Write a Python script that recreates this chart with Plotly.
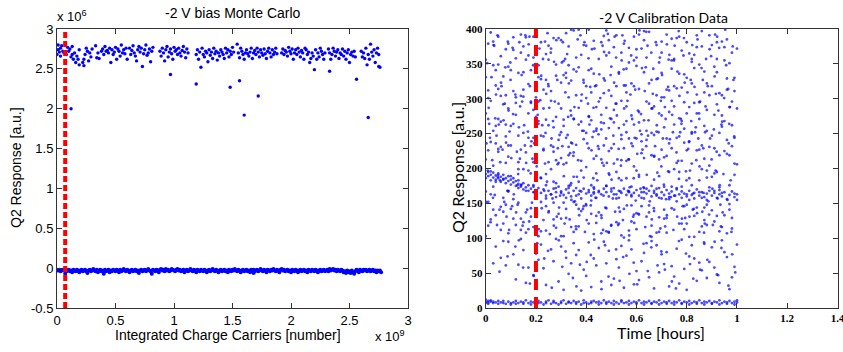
import plotly.graph_objects as go

# ---------------- Left panel: -2 V bias Monte Carlo ----------------
# x in units of 1e7 charge carriers, y in units of 1e4 a.u. (axes shown as x1e9 / x1e6)
MC_TOP_X = [0,1,1,2,3,3,4,5,6,7,8,9,10,11,12,13,13,14,15,16,17,18,19,19,
            22,23,23,24,25,26,27,28,29,30,
            33,34,35,36,
            38,39,40,41,42,43,44,45,46,47,48,49,50,51,52,53,54,55,56,57,58,59,60,
            62,63,64,65,66,67,68,69,70,71,72,73,74,75,76,77,78,79,80,81,82,
            88,89,90,91,92,93,94,95,96,97,98,99,100,101,102,103,104,105,106,107,108,109,110,111,112,
            119,120,121,122,123,124,125,126,127,128,129,130,131,132,133,134,135,136,137,138,139,140,141,142,143,144,145,146,147,148,149,150,151,
            154,155,156,157,158,159,160,161,162,163,164,165,166,167,168,169,170,171,172,173,174,175,176,177,178,179,180,181,182,183,184,185,186,187,188,
            192,193,194,195,196,197,198,199,200,201,202,203,204,205,206,207,208,209,210,211,212,213,214,215,216,217,218,219,220,221,222,223,224,225,226,227,228,229,
            232,233,234,235,236,237,238,239,240,241,242,243,244,245,246,247,248,249,250,251,252,253,254,255,
            260,261,262,263,264,265,266,267,268,269,270,271,272,273,274,275,276]
MC_TOP_Y = [268,274,280,271,276,266,279,272,270,281,268,277,272,275,265,278,268,262,270,258,266,262,274,255,
            258,254,262,268,276,272,260,270,265,275,
            279,264,270,263,
            272,275,268,278,272,273,270,276,258,274,268,271,277,262,275,272,266,280,270,274,269,276,262,
            276,268,273,279,270,266,260,274,278,271,276,253,269,274,280,267,270,275,259,272,277,
            272,266,276,270,260,274,278,265,271,275,269,262,277,272,274,268,276,270,266,273,278,271,264,275,270,
            268,274,262,271,252,276,268,265,272,270,259,274,267,271,263,276,269,272,261,270,266,274,271,268,263,276,270,274,265,272,268,277,271,
            281,270,264,276,272,268,262,270,274,269,266,271,276,263,270,273,268,276,271,265,274,270,267,275,269,263,272,276,270,265,274,268,271,276,269,
            270,275,268,273,271,266,277,272,269,275,262,270,274,268,276,271,265,273,270,262,276,274,268,271,258,263,270,266,249,274,262,270,265,276,272,268,262,270,
            275,270,262,268,276,272,266,271,274,263,270,268,275,266,272,262,270,274,258,268,271,266,272,265,
            272,265,270,263,276,255,268,262,281,271,266,274,258,270,276,268,252]
MC_OUT_X = [12, 97, 119, 148, 156, 160, 172, 233, 256, 266, 275]
MC_OUT_Y = [200, 243, 231, 227, 235, 192, 216, 247, 237, 189, 253]
MC_BASE = [(0,-2),(1,-3),(2,-2),(3,-4),(4,-3),(5,-2),(6,-3),(7,-7),(7,-2),(8,-4),(9,-3),(10,-2),(11,-4),(12,-3),(13,-5),(14,-2),
           (15,-3),(16,-4),(17,-2),(18,-3),(19,-5),(20,-3),(21,-2),(22,-4),(23,-3),(24,-2),(25,-4),(26,-6),(27,-3),(28,-2),(29,-4),
           (30,-3),(31,-1),(32,-3),(33,-4),(34,-2),(35,-5),(36,-3),(37,-2),(38,-4),(39,-3),(40,-7),(41,-2),(42,-4),(43,-3),(44,-2),
           (45,-5),(46,-3),(47,-4),(48,-2),(49,-3),(50,-4),(51,-2),(52,-3),(53,-5),(54,-2),(55,-4),(56,-3),(57,-1),(58,-3),(59,-4),
           (60,-2),(61,-3),(62,-5),(63,-3),(64,-2),(65,-4),(66,-3),(67,-2),(68,-4),(69,-3),(70,-6),(71,-3),(72,-2),(73,-4),(74,-3),
           (75,-2),(76,-4),(77,-3),(78,-1),(79,-3),(80,-4),(81,-7),(82,-2),(83,-3),(84,-4),(85,-2),(86,-3),(87,-5),(88,-2),(89,-1),
           (90,-3),(91,-2),(92,-4),(93,-1),(94,-3),(95,-2),(96,-4),(97,-3),(98,-1),(99,-2),(100,-3),(101,-4),(102,-2),(103,-1),
           (104,-3),(105,-2),(106,-4),(107,-3),(108,-2),(109,-5),(110,-3),(111,-2),(112,-4),(113,-3),(114,-1),(115,-3),(116,-4),
           (117,-2),(118,-3),(119,-5),(120,-2),(121,-3),(122,-4),(123,-2),(124,-3),(125,-4),(126,-2),(127,-3),(128,-5),(129,-3),
           (130,-2),(131,-4),(132,-3),(133,-1),(134,-3),(135,-4),(136,-2),(137,-3),(138,-5),(139,-3),(140,-2),(141,-4),(142,-3),
           (143,-2),(144,-4),(145,-3),(146,-5),(147,-2),(148,-3),(149,-4),(150,-2),(151,-3),(152,-1),(153,-3),(154,-4),(155,-2),
           (156,-3),(157,-5),(158,-3),(159,-2),(160,-4),(161,-3),(162,-2),(163,-4),(164,-3),(165,-5),(166,-2),(167,-3),(168,-6),
           (168,-2),(169,-4),(170,-3),(171,-2),(172,-4),(173,-3),(174,-1),(175,-3),(176,-4),(177,-2),(178,-3),(179,-5),(180,-2),
           (181,-3),(182,-4),(183,-2),(184,-3),(185,-1),(186,-3),(187,-4),(188,-2),(189,-3),(190,-5),(191,-2),(192,-1),(193,-3),
           (194,-2),(195,-4),(196,-3),(197,-2),(198,-4),(199,-3),(200,-5),(201,-2),(202,-3),(203,-4),(204,-2),(205,-3),(206,-5),
           (207,-3),(208,-2),(209,-4),(210,-3),(211,-2),(212,-4),(213,-3),(214,-5),(215,-2),(216,-3),(217,-4),(218,-2),(219,-3),
           (220,-4),(221,-2),(222,-3),(223,-5),(224,-3),(225,-2),(226,-4),(227,-3),(228,-2),(229,-4),(230,-3),(231,-2),(232,-4),
           (233,-1),(234,-3),(235,-2),(236,-1),(237,-3),(238,-2),(239,-4),(240,-2),(241,-3),(242,-4),(243,-2),(244,-3),(245,-5),
           (246,-4),(247,-6),(248,-3),(249,-5),(250,-4),(251,-6),(252,-3),(253,-5),(254,-7),(255,-4),(256,-2),(257,-3),(258,-5),
           (259,-2),(260,-3),(261,-4),(262,-2),(263,-3),(264,-2),(265,-4),(266,-3),(267,-2),(268,-4),(269,-3),(270,-2),(271,-4),
           (272,-3),(273,-5),(274,-3),(275,-4),(276,-3),(277,-5)]
MC_CUT_X = 0.07  # x1e9, red dashed marker
MC_XTICKS = [0, 0.5, 1, 1.5, 2, 2.5, 3]
MC_XTEXT = ["0", "0.5", "1", "1.5", "2", "2.5", "3"]
MC_YTICKS = [-0.5, 0, 0.5, 1, 1.5, 2, 2.5, 3]
MC_YTEXT = ["-0.5", "0", "0.5", "1", "1.5", "2", "2.5", "3"]

# ---------------- Right panel: -2 V Calibration Data ----------------
# CAL_CLOUD: x in hundredths of an hour, y in a.u.
CAL_CLOUD = [
 (1,312),(6,145),(11,388),(14,227),(21,103),(25,356),(31,261),(34,179),(41,399),(44,132),(51,284),(56,211),(60,347),(66,118),(70,302),(76,244),(80,163),(86,375),(91,229),(97,141),
 (3,254),(8,371),(12,119),(18,296),(22,186),(28,333),(32,142),(38,267),(43,214),(47,390),(52,157),(58,322),(62,239),(68,108),(73,281),(77,195),(83,344),(87,126),(93,308),(98,262),
 (0,167),(5,228),(10,341),(16,137),(20,274),(26,199),(30,384),(36,113),(40,318),(46,256),(50,171),(55,379),(61,134),(65,293),(71,216),(75,357),(81,102),(85,271),(90,188),(96,329),
 (2,395),(7,121),(13,209),(17,362),(23,286),(27,151),(33,231),(37,345),(42,176),(48,110),(53,336),(57,243),(63,397),(67,184),(72,129),(78,316),(82,252),(88,148),(92,381),(99,207),
 (4,133),(9,286),(15,251),(19,176),(24,327),(29,241),(35,152),(39,377),(45,296),(49,225),(54,104),(59,263),(64,171),(69,352),(74,143),(79,237),(84,391),(89,305),(94,116),(100,286),
 (1,226),(5,349),(12,294),(16,108),(22,247),(26,372),(30,128),(36,305),(40,202),(45,166),(51,235),(55,142),(61,281),(65,396),(71,174),(75,263),(80,330),(86,199),(90,247),(95,374),
 (3,382),(7,185),(11,156),(17,321),(20,139),(27,259),(32,394),(35,223),(42,343),(47,308),(50,119),(57,373),(60,197),(67,248),(70,366),(77,121),(81,288),(85,166),(92,132),(97,351),
 (0,279),(6,112),(13,337),(18,232),(24,364),(28,115),(31,206),(37,181),(41,275),(46,133),(52,391),(56,268),(62,146),(66,219),(72,313),(76,387),(82,207),(87,261),(93,173),(98,114),
 (2,163),(8,305),(14,174),(19,389),(23,126),(29,293),(33,348),(38,139),(44,254),(48,362),(53,186),(58,124),(63,338),(68,161),(73,236),(78,174),(83,363),(88,322),(94,276),(99,191),
 (4,341),(9,217),(15,375),(21,264),(25,209),(30,165),(34,276),(39,323),(43,106),(49,193),(54,297),(59,389),(64,254),(69,130),(74,386),(79,295),(84,144),(89,231),(95,355),(100,155),
 (1,118),(6,267),(10,233),(16,168),(21,331),(26,297),(31,103),(36,359),(41,166),(45,228),(50,346),(56,186),(60,113),(66,327),(71,259),(76,153),(81,239),(86,397),(91,124),(96,241),
 (3,204),(8,148),(12,358),(17,279),(22,152),(27,387),(32,244),(37,117),(42,309),(47,265),(52,123),(57,213),(62,372),(67,289),(72,108),(77,336),(82,176),(87,214),(92,292),(97,176),
 (0,356),(5,191),(11,128),(15,313),(20,372),(25,137),(30,323),(35,271),(40,147),(46,381),(51,207),(55,319),(61,266),(65,137),(70,227),(75,199),(80,381),(85,109),(91,346),(96,107),
 (2,297),(7,332),(13,247),(18,131),(23,226),(28,349),(33,172),(38,211),(43,383),(48,143),(53,258),(58,162),(63,215),(68,377),(73,195),(78,268),(83,132),(88,284),(93,219),(99,330),
 (4,181),(9,107),(14,392),(19,244),(24,111),(29,208),(34,399),(39,254),(44,193),(49,312),(54,366),(59,134),(64,296),(69,213),(74,355),(79,146),(84,306),(89,173),(94,382),(98,296),
 (1,379),(6,231),(10,189),(16,356),(21,296),(26,163),(31,334),(36,148),(41,229),(46,277),(51,163),(56,343),(61,188),(66,251),(71,141),(76,315),(81,155),(86,233),(91,277),(97,219),
 (3,141),(8,263),(12,302),(17,197),(22,381),(27,224),(32,129),(37,287),(42,135),(47,204),(52,318),(57,111),(62,249),(67,168),(72,392),(77,246),(82,357),(87,144),(92,195),(98,366),
 (0,213),(5,389),(11,264),(15,123),(20,243),(25,318),(31,270),(35,398),(40,251),(45,357),(50,229),(56,289),(60,371),(66,102),(70,276),(76,208),(80,121),(85,349),(90,318),(95,133),
 (2,238),(7,158),(13,183),(18,341),(23,313),(28,179),(33,302),(38,363),(44,122),(48,287),(53,144),(58,236),(64,131),(68,305),(74,174),(78,369),(84,226),(88,119),(94,165),(99,244),
 (4,319),(9,346),(14,128),(19,209),(24,270),(30,252),(34,116),(39,187),(43,336),(49,108),(54,248),(59,318),(63,166),(69,279),(73,312),(79,113),(83,294),(89,391),(93,251),(100,372),
 (2,127),(6,304),(10,261),(15,199),(21,348),(24,157),(29,387),(35,188),(39,146),(44,319),(50,271),(54,183),(60,136),(64,359),(69,189),(75,289),(79,257),(85,183),(90,140),(96,313),
 (0,103),(5,271),(9,379),(14,304),(19,116),(25,262),(28,212),(34,326),(40,376),(43,253),(48,175),(55,229),(59,203),(65,147),(70,337),(74,229),(80,279),(84,374),(89,204),(95,268),
 (3,348),(8,208),(13,151),(17,244),(22,110),(26,311),(32,158),(36,234),(41,341),(46,107),(51,266),(57,352),(61,314),(67,217),(71,128),(77,389),(81,186),(87,339),(92,357),(98,129),
 (1,271),(7,138),(11,311),(16,388),(20,302),(27,127),(30,286),(37,399),(42,154),(47,329),(52,195),(55,101),(62,222),(66,175),(72,243),(75,141),(82,322),(86,117),(91,168),(97,288),
 (4,236),(9,168),(13,199),(18,294),(24,192),(28,274),(33,219),(38,297),(44,218),(49,384),(53,338),(58,276),(63,384),(68,253),(73,159),(78,211),(83,102),(88,254),(94,305),(99,164),
 (1,152),(5,314),(12,277),(17,113),(21,268),(26,233),(31,151),(35,342),(42,269),(45,137),(50,304),(57,166),(60,243),(65,322),(71,302),(74,343),(81,365),(85,227),(91,193),(96,385),
 (3,174),(6,361),(10,142),(16,223),(22,328),(27,181),(33,375),(36,161),(41,121),(47,233),(53,121),(56,309),(63,269),(67,139),(70,157),(77,272),(80,148),(87,309),(93,110),(98,232),
 (0,331),(8,246),(14,112),(19,359),(23,246),(29,135),(32,330),(39,242),(43,164),(48,398),(52,293),(58,147),(61,392),(68,328),(72,218),(78,121),(84,279),(88,197),(92,338),(99,311),
 (2,196),(7,292),(11,370),(18,143),(25,376),(30,215),(34,237),(37,142),(44,288),(49,258),(54,212),(59,355),(64,241),(69,109),(75,318),(79,335),(82,250),(86,158),(94,260),(97,149),
 (4,261),(9,233),(15,338),(20,190),(24,146),(31,354),(35,109),(40,301),(46,213),(51,374),(55,263),(62,158),(66,286),(70,382),(76,172),(80,226),(85,295),(90,377),(95,225),(100,206)]
# CAL_CLOUD_FINE: x in thousandths of an hour, y in a.u.
CAL_CLOUD_FINE = [
 (17,244),(63,318),(112,163),(158,391),(207,277),(251,139),(303,352),(349,218),(402,126),(456,301),(508,247),(553,383),(597,154),(648,269),(702,334),(747,112),(806,228),(853,296),(902,171),(957,348),
 (34,376),(83,131),(137,289),(186,214),(228,357),(279,172),(326,248),(377,391),(428,186),(479,243),(527,119),(576,306),(624,227),(677,381),(726,196),(779,264),(828,142),(877,357),(926,283),(978,109),
 (8,197),(52,263),(98,352),(147,118),(193,236),(241,307),(292,144),(338,283),(389,327),(437,158),(491,366),(538,204),(587,131),(637,345),(688,252),(737,159),(789,387),(838,212),(889,134),(938,263),
 (23,331),(74,152),(124,224),(171,378),(219,187),(268,268),(314,121),(361,339),(413,263),(467,112),(517,293),(566,168),(612,398),(661,127),(713,288),(766,211),(816,327),(867,165),(913,392),(967,236),
 (45,119),(91,283),(143,334),(194,166),(246,394),(287,229),(337,176),(384,254),(433,372),(482,208),(534,138),(583,271),(633,311),(683,194),(731,363),(784,146),(833,252),(884,318),(934,148),(986,327),
 (12,287),(58,209),(105,146),(153,262),(201,319),(255,106),(307,381),(355,153),(407,293),(452,335),(501,184),(549,342),(603,221),(653,153),(697,297),(752,376),(799,183),(846,243),(897,361),(946,192),
 (29,158),(78,345),(129,192),(176,318),(223,143),(272,353),(321,208),(372,133),(421,226),(471,367),(522,276),(571,104),(618,278),(667,343),(721,133),(771,304),(822,377),(872,121),(919,224),(972,288),
 (3,236),(47,391),(95,253),(142,177),(190,284),(236,207),(283,131),(331,322),(380,197),(429,287),(476,144),(529,228),(579,362),(628,173),(674,232),(726,317),(774,252),(825,164),(875,289),(929,373),
 (38,272),(86,168),(134,381),(182,239),(233,168),(275,296),(324,364),(370,263),(418,147),(464,208),(513,389),(560,252),(608,135),(659,366),(709,177),(759,223),(811,131),(859,344),(908,256),(962,155),
 (19,123),(67,227),(118,306),(165,141),(214,372),(262,243),(311,189),(359,117),(409,358),(459,266),(506,157),(557,319),(606,283),(654,103),(705,243),(754,161),(803,309),(851,203),(904,119),(953,399),
 (41,306),(88,382),(132,259),(179,193),(230,228),(281,384),(328,274),(374,168),(425,245),(474,326),(524,213),(573,173),(622,344),(671,218),(718,156),(768,397),(818,268),(866,229),(916,307),(969,264),
 (6,351),(55,141),(102,215),(150,303),(198,134),(249,321),(296,161),(344,236),(395,109),(444,183),(495,272),(544,391),(593,244),(641,191),(693,359),(742,277),(794,129),(843,385),(893,243),(943,137),
 (26,212),(71,269),(121,137),(168,253),(217,298),(266,157),(317,309),(366,385),(416,317),(461,129),(511,323),(562,147),(610,191),(663,286),(714,117),(763,339),(809,238),(862,138),(911,332),(960,221),
 (48,188),(93,112),(140,366),(189,348),(238,251),(286,206),(334,127),(382,306),(431,171),(486,393),(536,167),(585,232),(635,116),(685,329),(733,242),(781,128),(831,317),(880,187),(931,176),(983,375),
 (14,264),(61,323),(109,278),(161,208),(211,113),(259,366),(305,232),(353,288),(404,236),(449,249),(499,118),(551,286),(600,359),(646,247),(699,203),(749,355),(797,196),(849,279),(899,213),(949,301),
 (36,162),(81,237),(127,148),(174,389),(225,262),(271,118),(319,337),(368,212),(423,371),(469,161),(519,359),(568,213),(616,171),(669,143),(721,378),(769,185),(820,353),(869,108),(923,157),(975,183),
 (10,301),(57,183),(107,373),(156,233),(203,203),(253,287),(300,103),(351,271),(399,149),(447,232),(497,334),(546,126),(595,313),(644,376),(695,114),(745,252),(792,323),(841,136),(891,371),(941,267),
 (31,377),(76,293),(126,176),(173,124),(221,333),(269,231),(316,357),(363,188),(411,274),(465,376),(515,138),(564,297),(614,254),(665,307),(716,271),(762,131),(813,197),(864,327),(915,197),(965,314),
 (1,152),(50,224),(99,327),(145,296),(196,158),(244,181),(294,248),(341,155),(393,381),(441,257),(492,191),(541,355),(591,122),(639,232),(690,172),(740,297),(787,362),(836,259),(886,153),(936,117),
 (43,247),(90,167),(136,214),(184,151),(236,382),(285,327),(336,222),(387,142),(435,318),(489,109),(540,242),(589,186),(639,396),(681,262),(728,356),(777,271),(824,141),(873,252),(921,389),(989,246),
 (55,52),(118,88),(176,35),(233,71),(291,97),(347,43),(402,66),(461,27),(519,84),(572,49),(628,92),(684,61),(741,38),(797,78),(853,55),(911,95),(966,32),
 (87,74),(149,58),(205,93),(263,29),(318,81),(375,62),(432,98),(489,45),(547,73),(603,34),(659,87),(713,55),(769,96),(826,42),(882,69),(938,86),(993,51),
 (132,97),(191,46),(248,82),(305,59),(361,31),(418,76),(475,90),(533,39),(589,65),(645,53),(699,81),(757,28),(813,63),(869,94),(925,47),(981,77)]
CAL_LOW = [
 (6,72),(9,95),(12,41),(15,83),(17,58),(22,91),(24,33),(27,67),(30,88),(33,49),(36,76),(38,25),(41,94),(44,61),(46,38),(49,82),(52,70),(55,29),
 (57,97),(60,53),(63,79),(65,44),(68,90),(71,63),(73,31),(76,85),(79,56),(81,74),(84,39),(87,92),(89,66),(92,48),(95,80),(97,27),(99,59),
 (4,88),(8,61),(11,77),(14,99),(19,47),(21,69),(26,84),(29,38),(32,72),(35,93),(39,55),(42,30),(45,86),(48,64),(51,42),(54,89),
 (56,75),(59,34),(62,67),(66,96),(69,51),(72,80),(75,45),(78,98),(80,26),(83,71),(86,54),(90,87),(93,36),(96,73),(100,91),
 (3,64),(7,96),(13,62),(16,36),(20,78),(23,57),(28,99),(31,26),(34,64),(37,83),(40,46),(43,71),(47,95),(50,33),
 (53,58),(58,84),(61,40),(64,93),(67,28),(70,77),(74,60),(77,35),(82,90),(85,65),(88,43),(91,58),(94,97),(98,44)]
CAL_BAND = [
 (0,192),(0,186),(1,195),(1,189),(2,183),(2,191),(3,194),(3,187),(4,190),(4,184),(5,193),(5,186),(6,188),(6,181),(7,191),(7,184),
 (8,186),(8,179),(9,189),(9,182),(10,184),(10,177),(11,186),(11,180),(12,175),(12,182),(13,178),(13,172),(14,176),(15,170),(15,179),
 (16,173),(17,168),(17,176),(18,171),(19,166),(19,174),(20,169),(20,163),
 (21,172),(22,165),(23,170),(24,161),(24,176),(25,168),(26,163),(27,171),(28,166),(28,159),(29,174),(30,167),(31,162),(32,170),
 (33,165),(33,175),(34,160),(35,168),(36,172),(37,163),(38,167),(38,157),(39,171),(40,164),(41,169),(42,161),(43,173),(43,166),
 (44,158),(45,168),(46,163),(47,171),(48,166),(48,175),(49,160),(50,167),(51,172),(52,163),(53,168),(53,158),(54,165),(55,171),
 (56,162),(57,167),(58,174),(58,160),(59,165),(60,169),(61,161),(62,166),(63,172),(63,157),(64,164),(65,168),(66,160),(67,165),
 (68,171),(68,163),(69,158),(70,166),(71,162),(72,169),(73,164),(73,156),(74,167),(75,161),(76,170),(77,163),(78,158),(78,167),
 (79,164),(80,160),(81,168),(82,162),(83,157),(83,165),(84,170),(85,161),(86,166),(87,159),(88,164),(88,155),(89,168),(90,161),
 (91,165),(92,158),(93,163),(93,169),(94,160),(95,166),(96,156),(97,162),(98,167),(99,159),(100,163)]
CAL_BASE = [
 (0,9),(0,12),(0,7),(1,10),(1,6),(1,8),(2,9),(2,11),(3,7),(3,9),(4,8),(5,6),(5,10),(6,8),(7,7),(7,10),(8,6),(9,9),(10,7),(10,5),
 (11,8),(12,10),(12,6),(13,7),(14,9),(15,6),(15,8),(16,11),(17,7),(18,5),(18,9),(19,8),(20,6),(21,10),(21,7),(22,8),(23,5),(24,9),
 (24,7),(25,11),(26,6),(27,8),(27,10),(28,7),(29,5),(30,9),(30,7),(31,11),(32,6),(33,8),(33,9),(34,7),(35,10),(36,6),(36,8),(37,9),
 (38,5),(39,7),(39,11),(40,8),(41,6),(42,9),(42,7),(43,10),(44,8),(45,5),(45,9),(46,7),(47,11),(48,6),(48,8),(49,9),(50,7),(51,10),
 (51,5),(52,8),(53,6),(54,9),(54,11),(55,7),(56,8),(57,5),(57,10),(58,7),(59,9),(60,6),(60,8),(61,11),(62,7),(63,9),(63,5),(64,8),
 (65,10),(66,6),(66,7),(67,9),(68,8),(69,5),(69,11),(70,7),(71,9),(72,6),(72,8),(73,10),(74,7),(75,5),(75,9),(76,8),(77,11),(78,6),
 (78,7),(79,9),(80,8),(81,10),(81,5),(82,7),(83,9),(84,6),(84,8),(85,11),(86,7),(87,9),(87,5),(88,8),(89,10),(90,6),(90,7),(91,9),
 (92,8),(93,11),(93,5),(94,7),(95,9),(96,6),(96,8),(97,10),(98,7),(99,9),(99,5),(100,8),(100,11)]
CAL_CUT_X = 0.2  # hours, red dashed marker
CAL_XTICKS = [0, 0.2, 0.4, 0.6, 0.8, 1, 1.2, 1.4]
CAL_XTEXT = ["0", "0.2", "0.4", "0.6", "0.8", "1", "1.2", "1.4"]
CAL_YTICKS = [0, 50, 100, 150, 200, 250, 300, 350, 400]
CAL_YTEXT = ["0", "50", "100", "150", "200", "250", "300", "350", "400"]

# ---------------- layout geometry (pixels of the 843x352 window) ----------------
W, H = 843, 352
def px_x(p):
    return p / W
def px_y(p):
    return 1 - p / H

L_X0, L_X1 = 57, 408
R_X0, R_X1 = 485.7, 837.5
P_TOP, P_BOT = 29, 308

BLUE = "#0000ff"
CAL_BLUE = "rgba(0,0,255,0.7)"
SANS = "Liberation Sans, Arial, sans-serif"
HUM = "Lato, Open Sans, sans-serif"
SERIF = "Liberation Serif, Times New Roman, serif"

fig = go.Figure()

# left panel traces
fig.add_trace(go.Scatter(x=[v / 100 for v in MC_TOP_X], y=[v / 100 for v in MC_TOP_Y], mode="markers",
                         marker=dict(color=BLUE, size=3.4), xaxis="x", yaxis="y", showlegend=False))
fig.add_trace(go.Scatter(x=[v / 100 for v in MC_OUT_X], y=[v / 100 for v in MC_OUT_Y], mode="markers",
                         marker=dict(color=BLUE, size=3.4), xaxis="x", yaxis="y", showlegend=False))
fig.add_trace(go.Scatter(x=[p[0] / 100 for p in MC_BASE], y=[p[1] / 100 for p in MC_BASE], mode="markers",
                         marker=dict(color=BLUE, size=4), xaxis="x", yaxis="y", showlegend=False))

# right panel traces
for pts, scale in ((CAL_CLOUD, 100), (CAL_CLOUD_FINE, 1000), (CAL_LOW, 100), (CAL_BAND, 100), (CAL_BASE, 100)):
    fig.add_trace(go.Scatter(x=[p[0] / scale for p in pts], y=[p[1] for p in pts], mode="markers",
                             marker=dict(color=CAL_BLUE, size=2.8, line=dict(width=0)),
                             xaxis="x2", yaxis="y2", showlegend=False))

axis_common = dict(showgrid=False, zeroline=False, showline=True, linecolor="#333", linewidth=1,
                   mirror="allticks", ticks="inside", ticklen=5, tickcolor="#333", tickwidth=1,
                   automargin=False, ticklabeloverflow="allow")

fig.update_layout(
    width=W, height=H,
    margin=dict(l=0, r=0, t=0, b=0, pad=0, autoexpand=False),
    paper_bgcolor="white", plot_bgcolor="white",
    font=dict(family=SANS, color="black"),
    xaxis=dict(domain=[px_x(L_X0), px_x(L_X1)], range=[0, 3], tickvals=MC_XTICKS, ticktext=MC_XTEXT,
               tickfont=dict(family=SANS, size=13, color="black"), anchor="y", **axis_common),
    yaxis=dict(domain=[px_y(P_BOT), px_y(P_TOP)], range=[-0.5, 3], tickvals=MC_YTICKS, ticktext=MC_YTEXT,
               tickfont=dict(family=SANS, size=13, color="black"), anchor="x", **axis_common),
    xaxis2=dict(domain=[px_x(R_X0), px_x(R_X1)], range=[0, 1.4], tickvals=CAL_XTICKS, ticktext=CAL_XTEXT,
                tickfont=dict(family=SERIF, size=11, color="black", weight="bold"), anchor="y2", **axis_common),
    yaxis2=dict(domain=[px_y(P_BOT), px_y(P_TOP)], range=[0, 400], tickvals=CAL_YTICKS, ticktext=CAL_YTEXT,
                tickfont=dict(family=SERIF, size=11, color="black", weight="bold"), anchor="x2", **axis_common),
    shapes=[
        dict(type="line", xref="x", yref="y domain", x0=MC_CUT_X, x1=MC_CUT_X, y0=0, y1=1,
             line=dict(color="#ff0000", width=4, dash="6px,3px"), layer="above"),
        dict(type="line", xref="x2", yref="y2 domain", x0=CAL_CUT_X, x1=CAL_CUT_X, y0=0, y1=1,
             line=dict(color="#ff0000", width=4, dash="11px,7px"), layer="above"),
    ],
    annotations=[
        dict(text="-2 V bias Monte Carlo", xref="paper", yref="paper", x=px_x(233), y=px_y(13),
             showarrow=False, xanchor="center", yanchor="middle", font=dict(family=SANS, size=14)),
        dict(text="x 10<sup>6</sup>", xref="paper", yref="paper", x=px_x(55), y=px_y(16),
             showarrow=False, xanchor="left", yanchor="middle", font=dict(family=SANS, size=13)),
        dict(text="Integrated Charge Carriers [number]", xref="paper", yref="paper", x=px_x(228), y=px_y(335),
             showarrow=False, xanchor="center", yanchor="middle", font=dict(family=SANS, size=14)),
        dict(text="x 10<sup>9</sup>", xref="paper", yref="paper", x=px_x(373), y=px_y(336),
             showarrow=False, xanchor="left", yanchor="middle", font=dict(family=SANS, size=13)),
        dict(text="Q2 Response [a.u.]", xref="paper", yref="paper", x=px_x(16), y=px_y(168),
             showarrow=False, xanchor="center", yanchor="middle", textangle=-90, font=dict(family=SANS, size=14)),
        dict(text="-2 V Calibration Data", xref="paper", yref="paper", x=px_x(663), y=px_y(17),
             showarrow=False, xanchor="center", yanchor="middle", font=dict(family=HUM, size=14)),
        dict(text="Time [hours]", xref="paper", yref="paper", x=px_x(661), y=px_y(332),
             showarrow=False, xanchor="center", yanchor="middle", font=dict(family=HUM, size=16)),
        dict(text="Q2 Response [a.u.]", xref="paper", yref="paper", x=px_x(457), y=px_y(168),
             showarrow=False, xanchor="center", yanchor="middle", textangle=-90, font=dict(family=HUM, size=16)),
    ],
)

# remove the default 8px page margin (and scrollbars) so the figure fills the window exactly
PAGE_FIX = ("document.documentElement.style.overflow='hidden';"
            "document.body.style.margin='0';document.body.style.overflow='hidden';")
fig.write_html("out.html", post_script=PAGE_FIX, config={"displayModeBar": False})
